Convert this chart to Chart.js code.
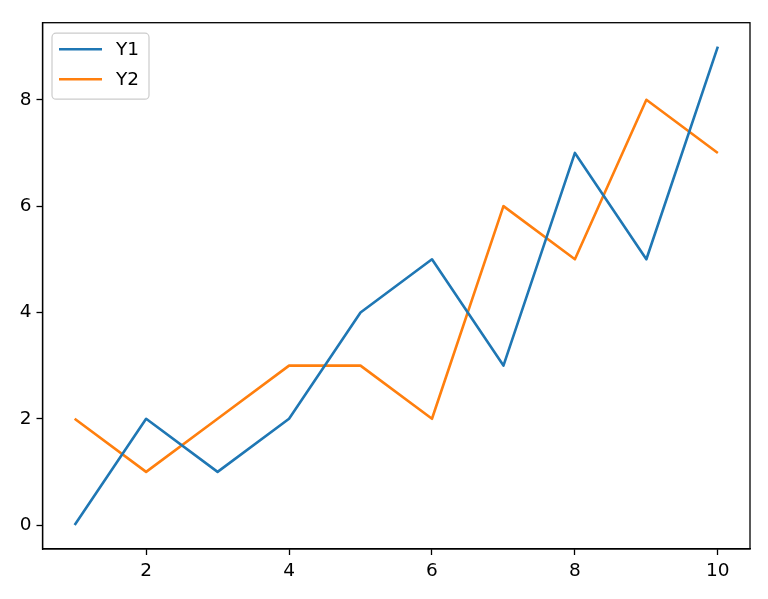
<!DOCTYPE html>
<html>
<head>
<meta charset="utf-8">
<script src="https://cdn.jsdelivr.net/npm/chart.js@4/dist/chart.umd.min.js"></script>
<style>
  html, body { margin: 0; padding: 0; background: #fff; }
  #wrap { width: 768px; height: 599px; }
</style>
</head>
<body>
<div id="wrap"><canvas id="chart" width="768" height="599"></canvas></div>
<script>
/* ======================================================================
DATA
====================================================================== */
const xValues = [1, 2, 3, 4, 5, 6, 7, 8, 9, 10];
const y1Values = [0, 2, 1, 2, 4, 5, 3, 7, 5, 9];
const y2Values = [2, 1, 2, 3, 3, 2, 6, 5, 8, 7];
const xTicks = [2, 4, 6, 8, 10];
const yTicks = [0, 2, 4, 6, 8];
const seriesNames = ['Y1', 'Y2'];

/* ======================================================================
Styles
====================================================================== */
const FONT = { family: 'DejaVu Sans', size: 18.5 };
const BLUE = '#1f77b4';
const ORANGE = '#ff7f0e';

function toPoints(ys) {
  return xValues.map((x, i) => ({ x: x, y: ys[i] }));
}

// top + right spines, matplotlib style
const framePlugin = {
  id: 'frame',
  afterDraw(chart) {
    const { ctx, chartArea: a } = chart;
    ctx.save();
    ctx.strokeStyle = '#000';
    ctx.lineWidth = 1.3;
    ctx.strokeRect(a.left, a.top, a.right - a.left, a.bottom - a.top);
    ctx.restore();
  }
};

// legend box in the upper left corner
const legendBoxPlugin = {
  id: 'legendBox',
  afterDraw(chart) {
    const { ctx, chartArea: a } = chart;
    const x0 = a.left + 9.5, y0 = a.top + 10.5, w = 97, h = 66, r = 4;
    ctx.save();
    ctx.beginPath();
    ctx.roundRect(x0, y0, w, h, r);
    ctx.fillStyle = 'rgba(255,255,255,0.8)';
    ctx.fill();
    ctx.strokeStyle = '#cccccc';
    ctx.lineWidth = 1.2;
    ctx.stroke();
    ctx.font = FONT.size + 'px ' + FONT.family;
    ctx.textBaseline = 'middle';
    chart.data.datasets.forEach((ds, i) => {
      const yy = y0 + 16 + i * 30;
      ctx.beginPath();
      ctx.moveTo(x0 + 7, yy);
      ctx.lineTo(x0 + 50, yy);
      ctx.strokeStyle = ds.borderColor;
      ctx.lineWidth = 2.6;
      ctx.stroke();
      ctx.fillStyle = '#000';
      ctx.fillText(ds.label, x0 + 64, yy + 1);
    });
    ctx.restore();
  }
};

function axisStyle(ticks, fitKey, fitSize) {
  return {
    type: 'linear',
    afterBuildTicks: s => { s.ticks = ticks.map(v => ({ value: v })); },
    afterFit: s => { s[fitKey] = fitSize; },
    grid: { drawOnChartArea: false, drawTicks: true, tickLength: 6, color: '#000', tickWidth: 1.3 },
    border: { display: true, color: '#000', width: 1.3 },
    ticks: { color: '#000', font: FONT, padding: 5, maxRotation: 0, autoSkip: false }
  };
}

const xAxis = Object.assign(axisStyle(xTicks, 'height', 50), { min: 0.55, max: 10.45 });
const yAxis = Object.assign(axisStyle(yTicks, 'width', 42.5), { min: -0.45, max: 9.45 });

new Chart(document.getElementById('chart'), {
  type: 'line',
  data: {
    datasets: [
      { label: seriesNames[0], data: toPoints(y1Values), borderColor: BLUE, backgroundColor: BLUE },
      { label: seriesNames[1], data: toPoints(y2Values), borderColor: ORANGE, backgroundColor: ORANGE }
    ]
  },
  options: {
    responsive: false,
    animation: false,
    layout: { padding: { top: 22.7, right: 18, left: 0, bottom: 0 } },
    elements: {
      line: { borderWidth: 2.6, tension: 0, borderCapStyle: 'butt', borderJoinStyle: 'round' },
      point: { radius: 0, hoverRadius: 0 }
    },
    plugins: { legend: { display: false }, tooltip: { enabled: false } },
    scales: { x: xAxis, y: yAxis }
  },
  plugins: [framePlugin, legendBoxPlugin]
});
</script>
</body>
</html>
